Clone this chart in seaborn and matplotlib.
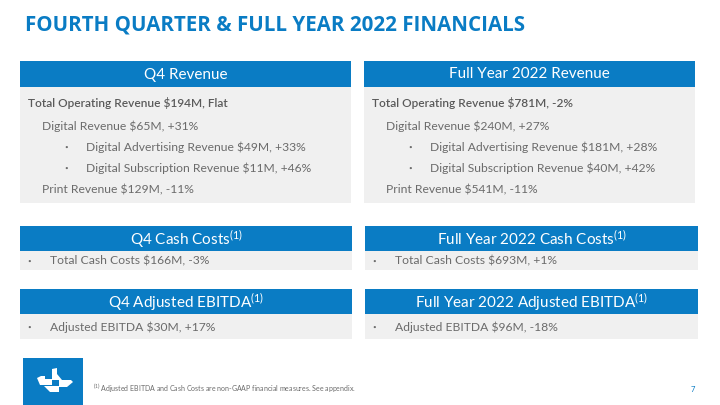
import matplotlib
matplotlib.use("Agg")
import matplotlib.pyplot as plt
from matplotlib.patches import Rectangle, Polygon
import seaborn as sns

# slide content
title = "FOURTH QUARTER & FULL YEAR 2022 FINANCIALS"

q4_header = "Q4 Revenue"
q4_lines = ["Total Operating Revenue $194M, Flat",
            "Digital Revenue $65M, +31%",
            "Digital Advertising Revenue $49M, +33%",
            "Digital Subscription Revenue $11M, +46%",
            "Print Revenue $129M, -11%"]

fy_header = "Full Year 2022 Revenue"
fy_lines = ["Total Operating Revenue $781M, -2%",
            "Digital Revenue $240M, +27%",
            "Digital Advertising Revenue $181M, +28%",
            "Digital Subscription Revenue $40M, +42%",
            "Print Revenue $541M, -11%"]

# indent level of each revenue line: 0 bold, 1 plain, 2 bullet
line_levels = [0, 1, 2, 2, 1]

small_headers = ["Q4 Cash Costs", "Full Year 2022 Cash Costs",
                 "Q4 Adjusted EBITDA", "Full Year 2022 Adjusted EBITDA"]
small_lines = ["Total Cash Costs $166M, -3%", "Total Cash Costs $693M, +1%",
               "Adjusted EBITDA $30M, +17%", "Adjusted EBITDA $96M, -18%"]

footnote = "Adjusted EBITDA and Cash Costs are non-GAAP financial measures. See appendix."
page_no = "7"

BLUE = "#0a7cc4"
GRAY_BG = "#f0f0f0"
TXT = "#6b6b6b"
TXT_DARK = "#5a5a5a"

sns.set_style("white")
plt.rcParams["font.family"] = ["Lato", "DejaVu Sans"]
plt.rcParams["mathtext.fontset"] = "custom"
plt.rcParams["mathtext.rm"] = "Lato"
plt.rcParams["mathtext.it"] = "Lato"
plt.rcParams["mathtext.bf"] = "Lato:bold"

fig = plt.figure(figsize=(7.2, 4.05), dpi=100)
ax = fig.add_axes([0, 0, 1, 1])
ax.set_xlim(0, 720)
ax.set_ylim(405, 0)
ax.axis("off")

ax.text(25, 24.5, title, color=BLUE, fontsize=14.8, fontweight="bold",
        family="Open Sans", va="center", ha="left")


def box(x0, x1, y0, yh, y1, header):
    ax.add_patch(Rectangle((x0, y0), x1 - x0, yh - y0, color=BLUE, lw=0))
    ax.add_patch(Rectangle((x0, yh), x1 - x0, y1 - yh, color=GRAY_BG, lw=0))
    ax.text((x0 + x1) / 2, (y0 + yh) / 2 + 0.5, header, color="white",
            fontsize=11, ha="center", va="center")


# revenue boxes
line_y = [103, 126, 147, 168, 190]
for x0, x1, hdr, lines in [(20, 351, q4_header, q4_lines),
                           (364, 695, fy_header, fy_lines)]:
    box(x0, x1, 61, 87, 203, hdr)
    for lvl, y, s in zip(line_levels, line_y, lines):
        if lvl == 0:
            ax.text(x0 + 8, y, s, color=TXT_DARK, fontsize=8.6,
                    fontweight="semibold", va="center")
        elif lvl == 1:
            ax.text(x0 + 22, y, s, color=TXT, fontsize=8.7, va="center")
        else:
            ax.text(x0 + 46, y, "•", color=TXT, fontsize=4.5, va="center",
                    ha="center")
            ax.text(x0 + 66, y, s, color=TXT, fontsize=8.7, va="center")

# cash costs / EBITDA boxes
pos = [(20, 352, 226, 251, 270), (365, 698, 226, 251, 270),
       (20, 352, 289, 314, 339), (365, 698, 289, 314, 339)]
for (x0, x1, y0, yh, y1), hdr, s in zip(pos, small_headers, small_lines):
    box(x0, x1, y0, yh, y1, hdr + r"$^{(1)}$")
    yc = (yh + y1) / 2 + 0.5
    ax.text(x0 + 9, yc, "•", color=TXT, fontsize=4.5, va="center",
            ha="center")
    ax.text(x0 + 30, yc, s, color=TXT, fontsize=8.7, va="center")

# logo
ax.add_patch(Rectangle((23, 358), 60, 47, color=BLUE, lw=0))
for pts in [[(52, 369), (57, 368), (57, 374), (62, 380), (52, 380)],
            [(37, 378), (41, 376), (45, 376), (45, 379), (52, 379),
             (52, 385), (40, 385)],
            [(59, 380), (71, 380), (73, 382), (67, 387), (59, 387)],
            [(44, 386), (59, 386), (59, 392), (50, 392)]]:
    ax.add_patch(Polygon(pts, closed=True, color="white", lw=0))

ax.text(93, 389, r"$^{(1)}$ " + footnote, color=TXT, fontsize=5,
        va="center", ha="left")
ax.text(693, 389, page_no, color=BLUE, fontsize=5.5, va="center", ha="center")

fig.savefig("out.png", dpi=100)
